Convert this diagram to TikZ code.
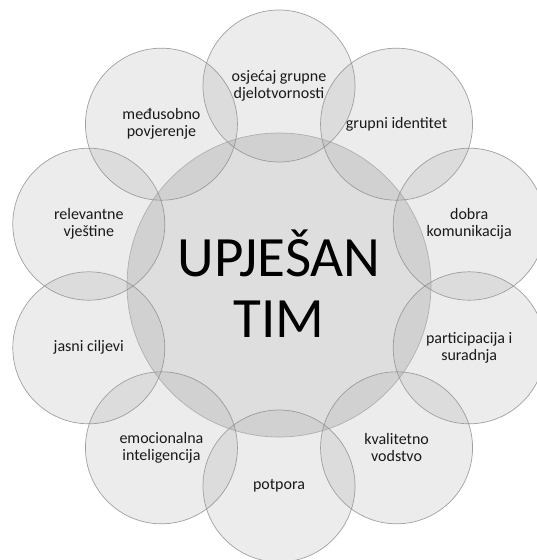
\documentclass[tikz,border=0pt]{standalone}
\usepackage{fontspec}
\setmainfont{Carlito}
\begin{document}
\begin{tikzpicture}[x=1pt,y=-1pt,
  hub/.style={circle, draw=black!35, line width=0.7pt, fill=black!40, fill opacity=0.32, draw opacity=0.8, text opacity=1, minimum size=304pt, inner sep=0pt},
  petal/.style={circle, draw=black!45, line width=0.7pt, fill=black!38, fill opacity=0.2, draw opacity=0.8, text opacity=1, minimum size=152pt, inner sep=0pt, align=center, font=\fontsize{16}{17}\selectfont, text=black!90},
  title/.style={font=\fontsize{57}{61}\selectfont, align=center, text=black}]
\useasboundingbox (0,0) rectangle (537,560);
\node[hub] (hub) at (279,285) {};
\node[title] (ttl) at (279,284) {UPJEŠAN\\TIM};
\foreach \ang/\nm/\txt in {
  90/p1/{osjećaj grupne\\djelotvornosti},
  54/p2/{grupni identitet},
  18/p3/{dobra\\komunikacija},
  -18/p4/{participacija i\\suradnja},
  -54/p5/{kvalitetno\\vodstvo},
  -90/p6/{potpora},
  -126/p7/{emocionalna\\inteligencija},
  -162/p8/{jasni ciljevi},
  162/p9/{relevantne\\vještine},
  126/p10/{međusobno\\povjerenje}}
  \node[petal] (\nm) at ({279+200*cos(\ang)},{286-200*sin(\ang)}) {\txt};
\end{tikzpicture}
\end{document}
